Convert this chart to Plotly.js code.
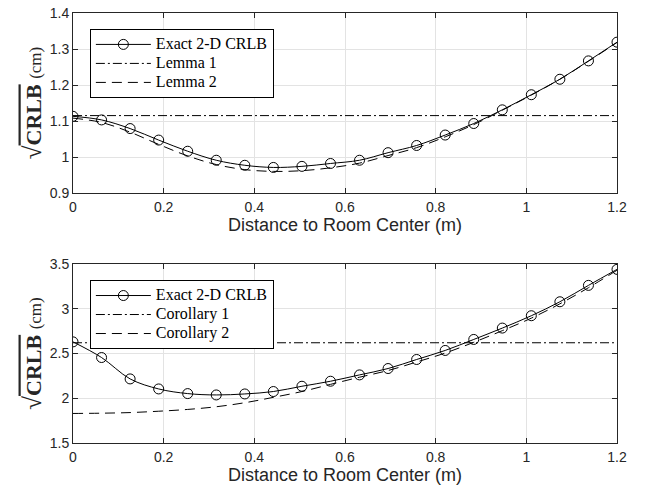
<!DOCTYPE html>
<html>
<head>
<meta charset="utf-8">
<script src="https://cdn.plot.ly/plotly-3.0.1.min.js"></script>
<style>html,body{margin:0;padding:0;background:#fff;}#chart{width:645px;height:489px;}</style>
</head>
<body>
<div id="chart"></div>
<script>
// Distance to room center (m)
const distance = [0, 0.063, 0.126, 0.189, 0.253, 0.316, 0.379, 0.442, 0.505, 0.568,
                  0.632, 0.695, 0.758, 0.821, 0.884, 0.947, 1.011, 1.074, 1.137, 1.2];
const lineEnds = [0, 1.2];

// Top panel
const exactTop  = [1.113, 1.103, 1.079, 1.047, 1.016, 0.991, 0.977, 0.971, 0.974, 0.982,
                   0.991, 1.012, 1.032, 1.061, 1.093, 1.131, 1.173, 1.216, 1.267, 1.319];
const lemma1    = [1.115, 1.115];
const lemma2    = [1.108, 1.096, 1.069, 1.035, 1.003, 0.979, 0.965, 0.960, 0.962, 0.970,
                   0.983, 1.004, 1.026, 1.056, 1.090, 1.130, 1.172, 1.216, 1.266, 1.318];

// Bottom panel
const exactBot  = [2.630, 2.455, 2.216, 2.104, 2.052, 2.037, 2.048, 2.075, 2.134, 2.190,
                   2.261, 2.332, 2.433, 2.534, 2.657, 2.784, 2.922, 3.078, 3.261, 3.440];
const corollary1 = [2.62, 2.62];
const corollary2 = [1.830, 1.833, 1.840, 1.855, 1.875, 1.905, 1.950, 2.010, 2.075, 2.155,
                    2.235, 2.310, 2.405, 2.505, 2.625, 2.755, 2.895, 3.055, 3.235, 3.430];

const xTicks = [0, 0.2, 0.4, 0.6, 0.8, 1, 1.2];
const xTickText = ['0', '0.2', '0.4', '0.6', '0.8', '1', '1.2'];
const yTicksTop = [0.9, 1, 1.1, 1.2, 1.3, 1.4];
const yTickTextTop = ['0.9', '1', '1.1', '1.2', '1.3', '1.4'];
const yTicksBot = [1.5, 2, 2.5, 3, 3.5];
const yTickTextBot = ['1.5', '2', '2.5', '3', '3.5'];

const namesTop = ['Exact 2-D CRLB', 'Lemma 1', 'Lemma 2'];
const namesBot = ['Exact 2-D CRLB', 'Corollary 1', 'Corollary 2'];

const ink = '#000000';
const axisCol = '#262626';
const gridCol = '#e3e3e3';
const dashLong = '10px,6px';
const dashDot = '9px,3px,2px,3px';

function legName(s) { return '<span style="font-size:16px">' + s + '</span>'; }

const traces = [
  {x: distance, y: exactTop, name: legName(namesTop[0]), mode: 'lines+markers', xaxis: 'x', yaxis: 'y',
   line: {color: ink, width: 1, shape: 'spline'}, marker: {symbol: 'circle-open', size: 10, color: ink, line: {width: 1}},
   legend: 'legend'},
  {x: lineEnds, y: lemma1, name: legName(namesTop[1]), mode: 'lines', xaxis: 'x', yaxis: 'y',
   line: {color: ink, width: 1, dash: dashDot}, legend: 'legend'},
  {x: distance, y: lemma2, name: legName(namesTop[2]), mode: 'lines', xaxis: 'x', yaxis: 'y',
   line: {color: ink, width: 1, dash: dashLong, shape: 'spline'}, legend: 'legend'},
  {x: distance, y: exactBot, name: legName(namesBot[0]), mode: 'lines+markers', xaxis: 'x2', yaxis: 'y2',
   line: {color: ink, width: 1, shape: 'spline'}, marker: {symbol: 'circle-open', size: 10, color: ink, line: {width: 1}},
   legend: 'legend2'},
  {x: lineEnds, y: corollary1, name: legName(namesBot[1]), mode: 'lines', xaxis: 'x2', yaxis: 'y2',
   line: {color: ink, width: 1, dash: dashDot}, legend: 'legend2'},
  {x: distance, y: corollary2, name: legName(namesBot[2]), mode: 'lines', xaxis: 'x2', yaxis: 'y2',
   line: {color: ink, width: 1, dash: dashLong, shape: 'spline'}, legend: 'legend2'}
];

const sansFam = 'Liberation Sans, Arial, sans-serif';
const serifFam = 'Liberation Serif, Times New Roman, serif';
const tickFont = {family: sansFam, size: 14, color: axisCol};
const yTitleText = '<span style="font-size:25px">√</span><span style="text-decoration:overline"><b>CRLB</b></span> <span style="font-size:17px">(cm)</span>';

function xAxis(anchor) {
  return {
    anchor: anchor, range: [0, 1.2], tickvals: xTicks, ticktext: xTickText,
    showgrid: true, gridcolor: gridCol, gridwidth: 1, zeroline: false,
    showline: true, linecolor: axisCol, linewidth: 1, mirror: 'ticks',
    ticks: 'inside', ticklen: 5, tickcolor: axisCol, tickfont: tickFont, ticklabelstandoff: 1,
    title: {text: 'Distance to Room Center (m)', font: {family: sansFam, size: 18, color: axisCol}, standoff: 0}
  };
}
function yAxis(anchor, domain, range, tv, tt) {
  return {
    anchor: anchor, domain: domain, range: range, tickvals: tv, ticktext: tt,
    showgrid: true, gridcolor: gridCol, gridwidth: 1, zeroline: false,
    showline: true, linecolor: axisCol, linewidth: 1, mirror: 'ticks',
    ticks: 'inside', ticklen: 5, tickcolor: axisCol, tickfont: tickFont,
    title: {text: yTitleText, font: {family: serifFam, size: 22, color: axisCol}, standoff: 2}
  };
}
const legendFont = {family: serifFam, size: 12, color: ink};

const layout = {
  width: 645, height: 489,
  margin: {l: 73, r: 28, t: 13, b: 46},
  paper_bgcolor: '#ffffff', plot_bgcolor: '#ffffff',
  showlegend: true,
  xaxis: xAxis('y'),
  yaxis: yAxis('x', [0.5814, 1], [0.9, 1.4], yTicksTop, yTickTextTop),
  xaxis2: xAxis('y2'),
  yaxis2: yAxis('x2', [0, 0.4163], [1.5, 3.5], yTicksBot, yTickTextBot),
  legend: {x: 0.031, y: 0.963, xanchor: 'left', yanchor: 'top', bgcolor: '#ffffff', bordercolor: ink, borderwidth: 1,
           font: legendFont, itemwidth: 55, tracegroupgap: 0},
  legend2: {x: 0.031, y: 0.379, xanchor: 'left', yanchor: 'top', bgcolor: '#ffffff', bordercolor: ink, borderwidth: 1,
            font: legendFont, itemwidth: 55, tracegroupgap: 0}
};

Plotly.newPlot('chart', traces, layout, {displayModeBar: false, staticPlot: true});
</script>
</body>
</html>
